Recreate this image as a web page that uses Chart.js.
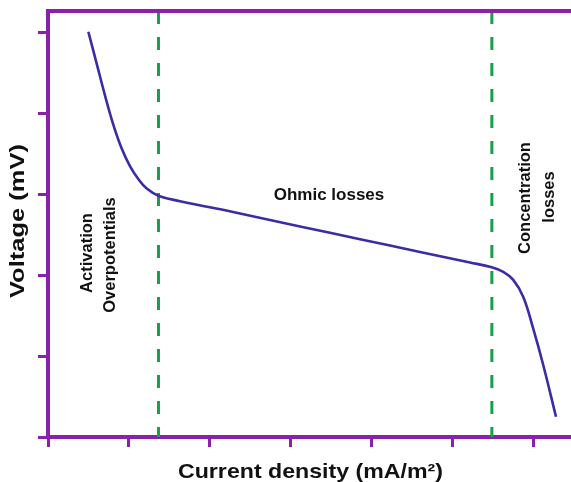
<!DOCTYPE html>
<html>
<head>
<meta charset="utf-8">
<script src="https://cdn.jsdelivr.net/npm/chart.js@4/dist/chart.umd.min.js"></script>
<style>
  html, body { margin: 0; padding: 0; background: #ffffff; }
  #wrap { width: 571px; height: 482px; position: relative; }
</style>
</head>
<body>
<div id="wrap"><canvas id="chart"></canvas></div>
<script>
// Polarization curve: current density (x) against cell voltage (y)
const currentDensity = [4.98, 6.01, 7.04, 8.06, 9.10, 10.12, 11.15, 12.19, 13.70, 16.30,
                        23.70, 31.11, 38.52, 45.93, 52.10, 54.78, 56.21, 57.44, 58.68,
                        59.88, 61.11, 62.72];
const voltage = [50.04, 46.11, 42.16, 38.58, 35.62, 33.46, 31.85, 30.68, 29.75, 29.12,
                 27.6, 26.0, 24.42, 22.85, 21.55, 20.95, 20.4, 19.4, 17.3,
                 13.46, 9.01, 2.5];

// Region boundaries (current density) and the axis extents
const regionBounds = [13.64, 54.8];
const xRange = [0, 64.57];
const yRange = [0, 52.6];
const xTicks = [0, 10, 20, 30, 40, 50, 60];
const yTicks = [0, 10, 20, 30, 40, 50];

const regionLabels = [
  { lines: ['Activation', 'Overpotentials'] },
  { lines: ['Ohmic losses'] },
  { lines: ['Concentration', 'losses'] }
];
const xTitle = 'Current density (mA/m\u00B2)';
const yTitle = 'Voltage (mV)';

const AXIS = '#8c1fae';
const CURVE = '#3a2ba8';
const DASH = '#16a04a';
const FONT = '"Liberation Sans", Arial, Helvetica, sans-serif';

const curvePoints = currentDensity.map((x, i) => ({ x: x, y: voltage[i] }));
// dashed boundaries run from the top frame down to the x axis
const boundaryDatasets = regionBounds.map(b => ({
  data: [{ x: b, y: yRange[1] }, { x: b, y: yRange[0] }],
  showLine: true,
  borderColor: DASH,
  borderWidth: 3,
  borderDash: [13, 13],
  pointRadius: 0,
  order: 2
}));

// Draw a label, optionally rotated and stretched to a given width
function drawLabel(ctx, text, x, y, opt) {
  ctx.save();
  ctx.font = 'bold ' + opt.size + 'px ' + FONT;
  ctx.fillStyle = '#111111';
  ctx.textAlign = 'center';
  ctx.textBaseline = opt.baseline || 'middle';
  ctx.translate(x, y);
  if (opt.rotate) ctx.rotate(-Math.PI / 2);
  if (opt.width) {
    const w = ctx.measureText(text).width;
    ctx.scale(opt.width / w, 1);
  }
  ctx.fillText(text, 0, 0);
  ctx.restore();
}

const decorations = {
  id: 'decorations',
  afterDraw(chart) {
    const ctx = chart.ctx;
    const a = chart.chartArea;
    // frame line along the top
    ctx.save();
    ctx.strokeStyle = AXIS;
    ctx.lineWidth = 4;
    ctx.beginPath();
    ctx.moveTo(a.left - 2, a.top);
    ctx.lineTo(a.right, a.top);
    ctx.stroke();
    ctx.restore();

    // region annotations
    const act = regionLabels[0].lines, ohm = regionLabels[1].lines, con = regionLabels[2].lines;
    drawLabel(ctx, act[0], 87, 253, { size: 16.5, rotate: true });
    drawLabel(ctx, act[1], 110, 255, { size: 16.5, rotate: true });
    drawLabel(ctx, ohm[0], 329, 195, { size: 17 });
    drawLabel(ctx, con[0], 525, 198, { size: 16.5, rotate: true });
    drawLabel(ctx, con[1], 549, 197, { size: 16.5, rotate: true });

    // axis titles
    drawLabel(ctx, xTitle, 310.5, 478, { size: 20.5, baseline: 'alphabetic', width: 265 });
    drawLabel(ctx, yTitle, 18.5, 221, { size: 19.5, rotate: true, width: 154 });
  }
};

function setTicks(values) {
  return scale => { scale.ticks = values.map(v => ({ value: v })); };
}

new Chart(document.getElementById('chart'), {
  type: 'scatter',
  data: {
    datasets: [
      {
        data: curvePoints,
        showLine: true,
        borderColor: CURVE,
        borderWidth: 2.6,
        tension: 0.4,
        pointRadius: 0,
        order: 1
      },
      ...boundaryDatasets
    ]
  },
  options: {
    responsive: true,
    maintainAspectRatio: false,
    animation: false,
    layout: { padding: { left: 38, right: 0, top: 11, bottom: 35 } },
    plugins: { legend: { display: false }, tooltip: { enabled: false } },
    scales: {
      x: {
        type: 'linear',
        min: xRange[0],
        max: xRange[1],
        afterBuildTicks: setTicks(xTicks),
        ticks: { display: false },
        grid: { drawOnChartArea: false, drawTicks: true, tickLength: 10, color: AXIS, lineWidth: 3 },
        border: { color: AXIS, width: 4 }
      },
      y: {
        type: 'linear',
        min: yRange[0],
        max: yRange[1],
        afterBuildTicks: setTicks(yTicks),
        ticks: { display: false },
        grid: { drawOnChartArea: false, drawTicks: true, tickLength: 10, color: AXIS, lineWidth: 3 },
        border: { color: AXIS, width: 4 }
      }
    }
  },
  plugins: [decorations]
});
</script>
</body>
</html>
